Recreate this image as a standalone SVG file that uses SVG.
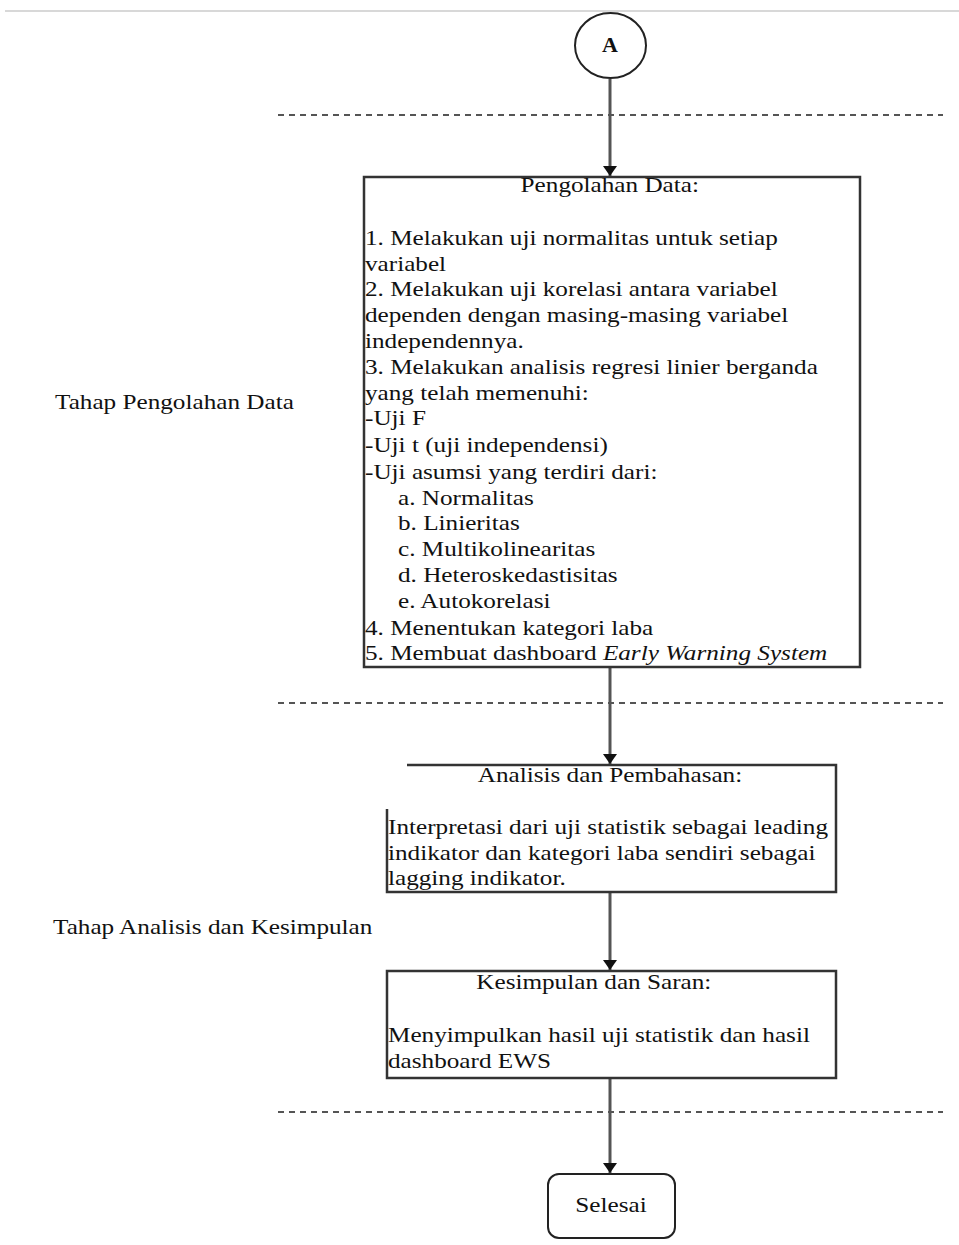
<svg xmlns="http://www.w3.org/2000/svg" width="959" height="1245" viewBox="0 0 959 1245">
<style>
.t{font-family:"Liberation Serif","Times New Roman",serif;font-size:21px;fill:#111}
.c{text-anchor:middle}
.box{fill:#fff;stroke:#333;stroke-width:2.5}
.conn{stroke:#555;stroke-width:3;fill:none}
.dash{stroke:#555;stroke-width:2;stroke-dasharray:6 5;fill:none}
</style>
<defs>
<marker id="arr" viewBox="0 0 10 14" markerWidth="10" markerHeight="14" refX="10" refY="7" orient="auto" markerUnits="userSpaceOnUse">
<path d="M0,0 L10,7 L0,14 z" fill="#111"/>
</marker>
</defs>
<rect width="959" height="1245" fill="#fff"/>
<line x1="5" y1="11" x2="959" y2="11" stroke="#d8d8d8" stroke-width="2"/>

<g id="separators">
<line class="dash" x1="278" y1="115" x2="943" y2="115"/>
<line class="dash" x1="278" y1="703" x2="943" y2="703"/>
<line class="dash" x1="278" y1="1112" x2="943" y2="1112"/>
</g>

<g id="label-pengolahan">
<text class="t" transform="matrix(1.2,0,0,1,55,409)">Tahap Pengolahan Data</text>
</g>
<g id="label-analisis">
<text class="t" transform="matrix(1.2,0,0,1,53,934)">Tahap Analisis dan Kesimpulan</text>
</g>

<g id="connectors">
<line class="conn" x1="610" y1="79" x2="610" y2="176" marker-end="url(#arr)"/>
<line class="conn" x1="610" y1="667" x2="610" y2="764" marker-end="url(#arr)"/>
<line class="conn" x1="610" y1="892" x2="610" y2="970" marker-end="url(#arr)"/>
<line class="conn" x1="610" y1="1078" x2="610" y2="1173" marker-end="url(#arr)"/>
</g>

<g id="node-A">
<ellipse cx="610.5" cy="45.5" rx="35.5" ry="32.5" fill="#fff" stroke="#222" stroke-width="2"/>
<text class="t c" transform="matrix(1.1,0,0,1,610,52)" style="font-size:20px;font-weight:bold">A</text>
</g>

<g id="node-pengolahan">
<rect class="box" x="364" y="177" width="496" height="490"/>
<g transform="matrix(1.2,0,0,1,365,0)">
<text class="t c" x="204" y="192">Pengolahan Data:</text>
<text class="t" x="0" y="245">1. Melakukan uji normalitas untuk setiap</text>
<text class="t" x="0" y="271">variabel</text>
<text class="t" x="0" y="296">2. Melakukan uji korelasi antara variabel</text>
<text class="t" x="0" y="322">dependen dengan masing-masing variabel</text>
<text class="t" x="0" y="348">independennya.</text>
<text class="t" x="0" y="374">3. Melakukan analisis regresi linier berganda</text>
<text class="t" x="0" y="400">yang telah memenuhi:</text>
<text class="t" x="0" y="425">-Uji F</text>
<text class="t" x="0" y="452">-Uji t (uji independensi)</text>
<text class="t" x="0" y="479">-Uji asumsi yang terdiri dari:</text>
<text class="t" x="27.5" y="505">a. Normalitas</text>
<text class="t" x="27.5" y="530">b. Linieritas</text>
<text class="t" x="27.5" y="556">c. Multikolinearitas</text>
<text class="t" x="27.5" y="582">d. Heteroskedastisitas</text>
<text class="t" x="27.5" y="608">e. Autokorelasi</text>
<text class="t" x="0" y="635">4. Menentukan kategori laba</text>
<text class="t" x="0" y="660">5. Membuat dashboard <tspan font-style="italic">Early Warning System</tspan></text>
</g>
</g>

<g id="node-analisis">
<rect x="387" y="765" width="449" height="127" fill="#fff"/>
<path d="M407,765 H836 V892 H387 V809" fill="none" stroke="#333" stroke-width="2.5"/>
<g transform="matrix(1.2,0,0,1,388,0)">
<text class="t c" x="185" y="782">Analisis dan Pembahasan:</text>
<text class="t" x="0" y="834">Interpretasi dari uji statistik sebagai leading</text>
<text class="t" x="0" y="860">indikator dan kategori laba sendiri sebagai</text>
<text class="t" x="0" y="885">lagging indikator.</text>
</g>
</g>

<g id="node-kesimpulan">
<rect class="box" x="387" y="971" width="449" height="107"/>
<g transform="matrix(1.2,0,0,1,388,0)">
<text class="t c" x="171.5" y="989">Kesimpulan dan Saran:</text>
<text class="t" x="0" y="1042">Menyimpulkan hasil uji statistik dan hasil</text>
<text class="t" x="0" y="1068">dashboard EWS</text>
</g>
</g>

<g id="node-selesai">
<rect x="548" y="1174" width="127" height="64" rx="11" ry="11" fill="#fff" stroke="#222" stroke-width="2"/>
<text class="t c" transform="matrix(1.2,0,0,1,611,1212)">Selesai</text>
</g>
</svg>
